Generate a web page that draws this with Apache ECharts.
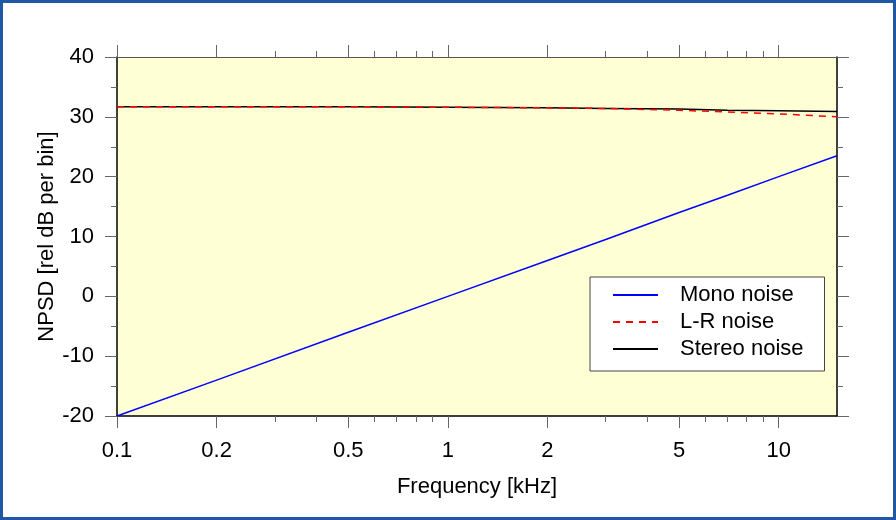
<!DOCTYPE html>
<html>
<head>
<meta charset="utf-8">
<script src="https://cdn.jsdelivr.net/npm/echarts@6/dist/echarts.min.js"></script>
<style>
  html, body { margin: 0; padding: 0; background: #fff; }
  #wrap { position: relative; width: 896px; height: 520px; }
  #chart { position: absolute; left: 0; top: 0; width: 896px; height: 520px; }
  #frame { position: absolute; left: 0; top: 0; width: 896px; height: 520px; box-sizing: border-box; border: 3px solid #1f57a4; pointer-events: none; }
</style>
</head>
<body>
<div id="wrap"><div id="chart"></div><div id="frame"></div></div>
<script>
// ---- data ----
const freqKHz   = [0.1, 0.2, 0.5, 1, 2, 3, 5, 7, 10, 15];
const monoNoise = [-20, -14, -6, 0, 6, 9.5, 14, 16.9, 20, 23.5];
const lrNoise   = [31.7, 31.7, 31.7, 31.6, 31.5, 31.4, 31.1, 30.8, 30.5, 30.0];
const stereoNoise = [31.7, 31.7, 31.7, 31.6, 31.5, 31.4, 31.3, 31.1, 31.0, 30.9];
const xMajorTicks = [0.1, 0.2, 0.5, 1, 2, 5, 10];
const xMinorTicks = [0.3, 0.4, 0.6, 0.7, 0.8, 0.9, 3, 4, 6, 7, 8, 9];
const seriesNames = ['Mono noise', 'L-R noise', 'Stereo noise'];

const X_MIN = 0.1, X_MAX = 15;
const FONT = 'Liberation Sans, Arial, Helvetica, sans-serif';
const FS = 22;
const tickColor = '#666';

function pairs(xs, ys) { return xs.map((x, i) => [x, ys[i]]); }
const lg = v => Math.log10(v);

function tickAxis(position, values, len, showLabels) {
  return {
    type: 'value', position: position, gridIndex: 0,
    min: lg(X_MIN), max: lg(X_MAX),
    axisLine: { show: false, onZero: false },
    splitLine: { show: false },
    axisTick: { show: true, inside: false, length: len, customValues: values.map(lg),
                lineStyle: { color: tickColor, width: 1 } },
    axisLabel: showLabels ? {
      show: true, customValues: values.map(lg), margin: 24,
      fontSize: FS, color: '#000', fontFamily: FONT,
      formatter: v => String(Math.round(Math.pow(10, v) * 1000) / 1000)
    } : { show: false }
  };
}

const chart = echarts.init(document.getElementById('chart'), null, { renderer: 'canvas' });
chart.setOption({
  animation: false,
  backgroundColor: '#fff',
  grid: { left: 117, top: 57, width: 720, height: 359, show: true,
          backgroundColor: '#ffffd5', borderWidth: 0 },
  xAxis: [
    { type: 'log', logBase: 10, min: X_MIN, max: X_MAX, position: 'bottom',
      axisLine: { show: true, onZero: false, lineStyle: { color: '#000', width: 1.5 } },
      axisTick: { show: false }, axisLabel: { show: false }, splitLine: { show: false },
      name: 'Frequency [kHz]', nameLocation: 'middle', nameGap: 60,
      nameTextStyle: { fontSize: FS, color: '#000', fontFamily: FONT } },
    tickAxis('bottom', xMajorTicks, 12, true),
    tickAxis('bottom', xMinorTicks, 6, false),
    Object.assign(tickAxis('top', xMajorTicks, 12, false),
      { axisLine: { show: true, onZero: false, lineStyle: { color: '#555', width: 1 } } }),
    tickAxis('top', xMinorTicks, 6, false)
  ],
  yAxis: [
    { type: 'value', position: 'left', min: -20, max: 40, interval: 10,
      axisLine: { show: true, onZero: false, lineStyle: { color: '#000', width: 1.5 } },
      axisTick: { show: true, length: 12, lineStyle: { color: tickColor } },
      minorTick: { show: true, splitNumber: 2, length: 6, lineStyle: { color: tickColor } },
      splitLine: { show: false },
      axisLabel: { fontSize: FS, color: '#000', fontFamily: FONT, margin: 23 },
      name: 'NPSD [rel dB per bin]', nameLocation: 'middle', nameGap: 59,
      nameMoveOverlap: false,
      nameTextStyle: { fontSize: FS, color: '#000', fontFamily: FONT } },
    { type: 'value', position: 'right', min: -20, max: 40, interval: 10,
      axisLine: { show: true, onZero: false, lineStyle: { color: '#000', width: 1.5 } },
      axisTick: { show: true, length: 12, lineStyle: { color: tickColor } },
      minorTick: { show: true, splitNumber: 2, length: 6, lineStyle: { color: tickColor } },
      splitLine: { show: false }, axisLabel: { show: false } }
  ],
  legend: {
    data: seriesNames,
    orient: 'vertical', left: 590, top: 277,
    backgroundColor: '#fff', borderColor: '#444', borderWidth: 1,
    padding: [7, 21, 11, 22],
    itemWidth: 45, itemHeight: 14, itemGap: 5,
    itemStyle: { opacity: 0 },
    textStyle: { fontSize: FS, color: '#000', fontFamily: FONT, padding: [0, 0, 0, 17] }
  },
  series: [
    { name: seriesNames[0], type: 'line', xAxisIndex: 0, yAxisIndex: 0,
      data: pairs(freqKHz, monoNoise), symbol: 'none', z: 3,
      lineStyle: { color: '#0000ff', width: 1.5 }, itemStyle: { color: '#0000ff' } },
    { name: seriesNames[1], type: 'line', xAxisIndex: 0, yAxisIndex: 0,
      data: pairs(freqKHz, lrNoise), symbol: 'none', z: 3,
      lineStyle: { color: '#ff0000', width: 1.5, type: [7, 6] }, itemStyle: { color: '#ff0000' } },
    { name: seriesNames[2], type: 'line', xAxisIndex: 0, yAxisIndex: 0,
      data: pairs(freqKHz, stereoNoise), symbol: 'none', z: 2,
      lineStyle: { color: '#000000', width: 1.5 }, itemStyle: { color: '#000000' } }
  ]
});
</script>
</body>
</html>
